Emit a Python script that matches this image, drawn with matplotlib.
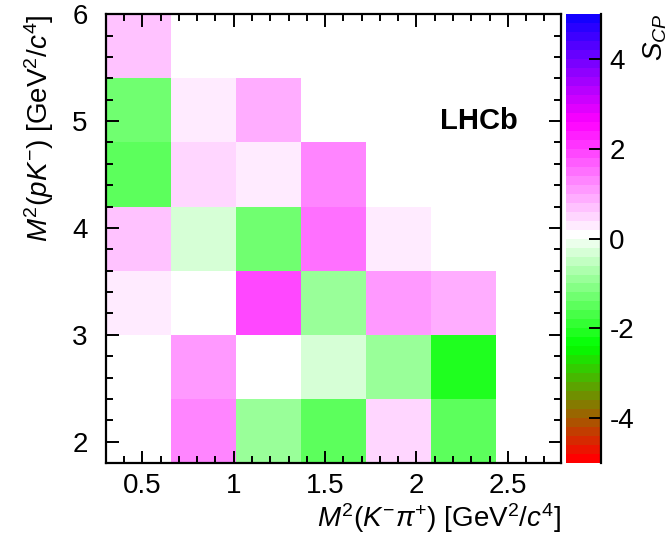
import numpy as np
import matplotlib
matplotlib.use("Agg")
import matplotlib.pyplot as plt
from matplotlib.colors import ListedColormap, Normalize
from matplotlib.ticker import MultipleLocator

plt.rcParams['font.family'] = ['Liberation Sans', 'DejaVu Sans']
plt.rcParams['mathtext.fontset'] = 'custom'
plt.rcParams['mathtext.it'] = 'Liberation Sans:italic'
plt.rcParams['mathtext.rm'] = 'Liberation Sans'

# bin edges of the 2D map
x_edges = [0.30, 0.656, 1.011, 1.367, 1.723, 2.079, 2.434, 2.79]
y_edges = [1.8, 2.4, 3.0, 3.6, 4.2, 4.8, 5.4, 6.0]

# S_CP per bin, rows from bottom (y 1.8-2.4) to top, NaN = empty bin
nan = np.nan
row_18 = [0.0, 1.27, -0.93, -1.42, 0.44, -1.57, nan]
row_24 = [0.0, 1.08, 0.0, -0.25, -0.93, -2.1, nan]
row_30 = [0.25, 0.0, 1.86, -1.0, 1.08, 0.88, nan]
row_36 = [0.7, -0.4, -1.37, 1.47, 0.25, nan, nan]
row_42 = [-1.57, 0.44, 0.25, 1.23, nan, nan, nan]
row_48 = [-1.37, 0.25, 0.83, nan, nan, nan, nan]
row_54 = [0.7, nan, nan, nan, nan, nan, nan]

scp = np.array([row_18, row_24, row_30, row_36, row_42, row_48, row_54])

# palette: red -> green -> white -> magenta -> blue, 50 bands over [-5, 5]
stops = [-5, -2.5, 0, 2.5, 5]
red = [1, 0, 1, 1, 0]
green = [0, 1, 1, 0, 0]
blue = [0, 0, 1, 1, 1]
band_lo = np.arange(50) * 0.2 - 5
colors = np.column_stack([np.interp(band_lo, stops, red),
                          np.interp(band_lo, stops, green),
                          np.interp(band_lo, stops, blue)])
cmap = ListedColormap(colors)
cmap.set_bad('white')

fig = plt.figure(figsize=(6.7, 5.46), dpi=100)
ax = fig.add_axes([0.158, 0.152, 0.679, 0.822])
cax = fig.add_axes([0.845, 0.152, 0.052, 0.822])

mesh = ax.pcolormesh(x_edges, y_edges, np.ma.masked_invalid(scp),
                     cmap=cmap, norm=Normalize(-5, 5))
ax.set_xlim(0.3, 2.79)
ax.set_ylim(1.8, 6.0)

ax.xaxis.set_major_locator(MultipleLocator(0.5))
ax.xaxis.set_minor_locator(MultipleLocator(0.1))
ax.yaxis.set_major_locator(MultipleLocator(1))
ax.yaxis.set_minor_locator(MultipleLocator(0.2))
ax.set_xticks([0.5, 1, 1.5, 2, 2.5])
ax.set_xticklabels(['0.5', '1', '1.5', '2', '2.5'])
ax.set_yticks([2, 3, 4, 5, 6])
ax.set_yticklabels(['2', '3', '4', '5', '6'])
ax.tick_params(which='both', direction='in', top=True, right=True, width=1.4)
ax.tick_params(which='major', length=9, labelsize=20)
ax.tick_params(which='minor', length=5)
ax.tick_params(axis='x', pad=7)
ax.tick_params(axis='y', pad=13)
for sp in ax.spines.values():
    sp.set_linewidth(1.6)

ax.set_xlabel(r'$M^{2}(K^{-}\pi^{+})$ [GeV$^{2}$/$c^{4}$]', fontsize=20,
              loc='right', labelpad=2)
ax.set_ylabel(r'$M^{2}(pK^{-})$ [GeV$^{2}$/$c^{4}$]', fontsize=20,
              loc='top', labelpad=12)

ax.text(2.13, 5.0, 'LHCb', fontsize=21, fontweight='bold', va='center')

cb = fig.colorbar(mesh, cax=cax)
cb.outline.set_visible(False)
cb.set_ticks([-4, -2, 0, 2, 4])
cb.set_ticklabels(['-4', '-2', '0', '2', '4'])
cax.tick_params(direction='in', length=9, width=1.4, labelsize=20, pad=6)
cax.minorticks_off()
cax.plot([1, 1], [0, 1], transform=cax.transAxes, color='black', lw=1.6,
         clip_on=False)

fig.text(0.978, 0.975, r'$S_{CP}$', fontsize=20, rotation=90,
         ha='center', va='top')

fig.savefig('out.png', dpi=100)
